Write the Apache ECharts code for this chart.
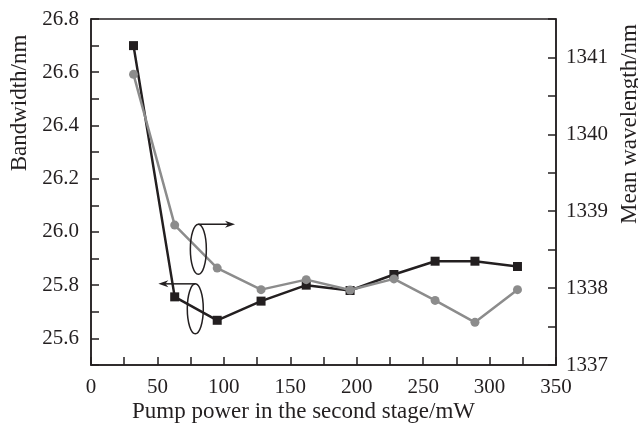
<!DOCTYPE html>
<html>
<head>
<meta charset="utf-8">
<script src="https://cdn.jsdelivr.net/npm/echarts@6/dist/echarts.min.js"></script>
<style>html,body{margin:0;padding:0;background:#fff;}#c{width:638px;height:423px;}</style>
</head>
<body>
<div id="c"></div>
<script>
const pumpPower = [32, 63, 95, 128, 162, 195, 228, 259, 289, 321];
const bandwidth = [26.70, 25.756, 25.668, 25.74, 25.80, 25.78, 25.84, 25.89, 25.89, 25.87];
const meanWavelength = [1340.78, 1338.82, 1338.26, 1337.98, 1338.11, 1337.975, 1338.12, 1337.84, 1337.555, 1337.98];
const xName = 'Pump power in the second stage/mW';
const yLeftName = 'Bandwidth/nm';
const yRightName = 'Mean wavelength/nm';

const FONT = 'Liberation Serif';
const INK = '#231f20';
const GRAY = '#8c8c8c';

const chart = echarts.init(document.getElementById('c'), null, {renderer: 'canvas'});
const axisCommon = {
  axisLine: {show: true, lineStyle: {color: INK, width: 1.5}},
  axisTick: {show: true, inside: true, length: 8, lineStyle: {color: INK, width: 1.5}},
  splitLine: {show: false}
};
chart.setOption({
  animation: false,
  backgroundColor: '#fff',
  grid: {left: 91, right: 82, top: 19, bottom: 58, show: true, borderColor: INK, borderWidth: 1.5,
    containLabel: false, outerBoundsMode: 'none'},
  xAxis: Object.assign({}, axisCommon, {
    type: 'value', min: 0, max: 350, interval: 25,
    name: xName, nameLocation: 'middle', nameGap: 35, nameMoveOverlap: false,
    nameTextStyle: {fontFamily: FONT, fontSize: 23, color: INK, padding: [0, 40, 0, 0]},
    axisLabel: {fontFamily: FONT, fontSize: 21, color: INK, margin: 12,
      formatter: v => (Math.round(v) % 50 === 0 ? String(Math.round(v)) : '')}
  }),
  yAxis: [
    Object.assign({}, axisCommon, {
      type: 'value', position: 'left', min: 25.5, max: 26.8, interval: 0.1,
      name: yLeftName, nameLocation: 'middle', nameGap: 59, nameRotate: 90,
      nameTextStyle: {fontFamily: FONT, fontSize: 23, color: INK, padding: [0, 0, 0, 178]},
      axisLabel: {fontFamily: FONT, fontSize: 21, color: INK, margin: 12,
        formatter: v => (Math.round(v * 10) % 2 === 0 ? v.toFixed(1) : '')}
    }),
    Object.assign({}, axisCommon, {
      type: 'value', position: 'right', min: 1337, max: 1341.5, interval: 0.5,
      name: yRightName, nameLocation: 'middle', nameGap: 58, nameRotate: 90,
      nameTextStyle: {fontFamily: FONT, fontSize: 23, color: INK, padding: [0, 0, 0, 136]},
      axisLabel: {fontFamily: FONT, fontSize: 21, color: INK, margin: 10,
        formatter: v => (Math.abs(v - Math.round(v)) < 1e-6 ? String(Math.round(v)) : '')}
    })
  ],
  series: [
    {
      name: yLeftName, type: 'line', yAxisIndex: 0, z: 2,
      data: pumpPower.map((x, i) => [x, bandwidth[i]]),
      symbol: 'rect', symbolSize: 9,
      lineStyle: {color: INK, width: 2.5},
      itemStyle: {color: INK}
    },
    {
      name: yRightName, type: 'line', yAxisIndex: 1, z: 3,
      data: pumpPower.map((x, i) => [x, meanWavelength[i]]),
      symbol: 'circle', symbolSize: 9,
      lineStyle: {color: GRAY, width: 2.5},
      itemStyle: {color: GRAY}
    }
  ]
});

// annotation ellipses and arrows, positioned through the chart's scales
function px(x, y) { return chart.convertToPixel({xAxisIndex: 0, yAxisIndex: 0}, [x, y]); }
const e1 = px(80.8, 25.935);
const e2 = px(78.5, 25.711);
const a1End = px(108.4, 25.8)[0];
const a2End = px(50.7, 25.8)[0];
const rx = 8, ry = 25;
function arrow(x0, y0, x1) {
  const dir = x1 > x0 ? 1 : -1;
  return [
    {type: 'line', shape: {x1: x0, y1: y0, x2: x1 - dir * 6, y2: y0}, style: {stroke: INK, lineWidth: 1.5}, z: 10},
    {type: 'polygon', shape: {points: [[x1, y0], [x1 - dir * 10, y0 - 3.5], [x1 - dir * 7, y0], [x1 - dir * 10, y0 + 3.5]]}, style: {fill: INK}, z: 10}
  ];
}
chart.setOption({
  graphic: [
    {type: 'ellipse', shape: {cx: e1[0], cy: e1[1], rx: rx, ry: ry}, style: {fill: 'none', stroke: INK, lineWidth: 1.5}, z: 10},
    {type: 'ellipse', shape: {cx: e2[0], cy: e2[1], rx: rx, ry: ry}, style: {fill: 'none', stroke: INK, lineWidth: 1.5}, z: 10}
  ].concat(arrow(e1[0], e1[1] - ry, a1End)).concat(arrow(e2[0], e2[1] - ry, a2End))
});
</script>
</body>
</html>
